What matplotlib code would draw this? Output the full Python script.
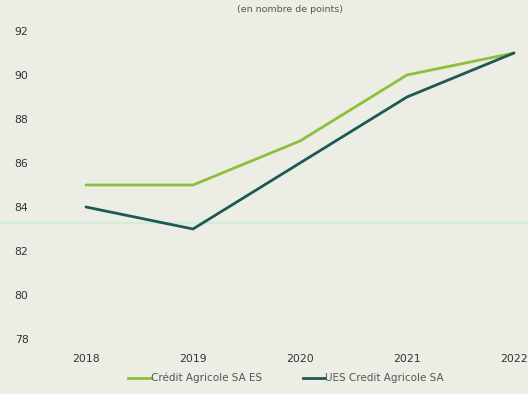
import matplotlib

matplotlib.use("Agg")

import matplotlib.pyplot as plt
from matplotlib.lines import Line2D

years = [2018, 2019, 2020, 2021, 2022]
ca_sa_es = [85, 85, 87, 90, 91]
ues_ca_sa = [84, 83, 86, 89, 91]
series_labels = ["Crédit Agricole SA ES", "UES Credit Agricole SA"]
y_ticks = [78, 80, 82, 84, 86, 88, 90, 92]

BG = "#ecede4"
GREEN = "#8dbf3c"
TEAL = "#1d5a55"
TEXT = "#333333"

fig = plt.figure(figsize=(5.28, 3.94), dpi=100, facecolor=BG)
ax = fig.add_axes([34 / 528, 1 - 339 / 394, 494 / 528, 308 / 394])
ax.patch.set_visible(False)

ax.plot(years, ca_sa_es, color=GREEN, linewidth=2.0, solid_capstyle="round")
ax.plot(years, ues_ca_sa, color=TEAL, linewidth=2.0, solid_capstyle="round")

ax.set_xlim(2017.514, 2022.131)
ax.set_ylim(78, 92)
ax.set_xticks(years)
ax.set_yticks(y_ticks)
ax.tick_params(length=0, labelsize=7.8, colors=TEXT)
ax.tick_params(axis="x", pad=11)
ax.tick_params(axis="y", pad=4)
for spine in ax.spines.values():
    spine.set_visible(False)

# faint scan line across the page, behind the data
fig.add_artist(Line2D([0, 1], [1 - 223 / 394] * 2, color="#d3ecd9",
                      linewidth=1.5, transform=fig.transFigure, zorder=-1))

fig.text(290 / 528, 1 - 9 / 394, "(en nombre de points)", ha="center",
         va="center", fontsize=6.8, color="#555555")

handles = [Line2D([], [], color=GREEN, linewidth=2),
           Line2D([], [], color=TEAL, linewidth=2)]
fig.legend(handles, series_labels, loc="center", bbox_to_anchor=(286 / 528, 1 - 378 / 394),
           ncol=2, frameon=False, fontsize=7.5, handlelength=2.2, handletextpad=0.0,
           columnspacing=3.9, labelcolor="#555555")

fig.savefig("out.png", dpi=100, facecolor=BG)
